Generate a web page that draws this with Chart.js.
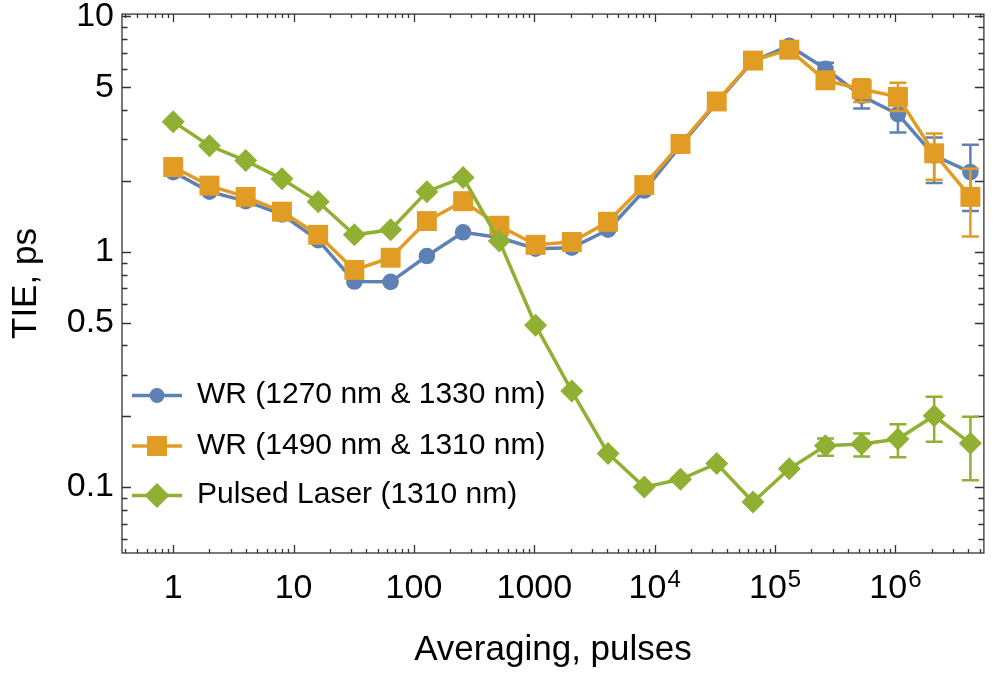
<!DOCTYPE html>
<html>
<head>
<meta charset="utf-8">
<script src="https://cdn.jsdelivr.net/npm/chart.js@4.4.0/dist/chart.umd.min.js"></script>
<style>
  html, body { margin: 0; padding: 0; background: #fff; }
  #tieChart { display: block; }
</style>
</head>
<body>
<canvas id="tieChart" width="998" height="677"></canvas>
<script>
// averaging lengths, 2^0 .. 2^22 pulses
var pulses = [1, 2, 4, 8, 16, 32, 64, 128, 256, 512, 1024, 2048, 4096, 8192, 16384,
  32768, 65536, 131072, 262144, 524288, 1048576, 2097152, 4194304];

// TIE in ps
var wr1270 = [2.18, 1.80, 1.64, 1.44, 1.12, 0.747, 0.745, 0.959, 1.21, 1.15, 1.03, 1.04,
  1.24, 1.82, 2.82, 4.30, 6.45, 7.50, 5.99, 4.59, 3.84, 2.56, 2.18];
var wr1490 = [2.29, 1.91, 1.71, 1.48, 1.18, 0.837, 0.943, 1.35, 1.64, 1.29, 1.07, 1.10,
  1.34, 1.92, 2.87, 4.35, 6.49, 7.22, 5.35, 4.90, 4.55, 2.62, 1.71];
var laser1310 = [3.57, 2.82, 2.44, 2.04, 1.63, 1.18, 1.24, 1.80, 2.07, 1.11, 0.487, 0.256,
  0.139, 0.100, 0.108, 0.126, 0.0864, 0.1196, 0.150, 0.1525, 0.160, 0.201, 0.1535];

// error bar limits, null where no bar is shown
var n18 = [null, null, null, null, null, null, null, null, null, null, null, null, null, null, null, null, null, null];
var wr1270Lo = n18.concat([5.65, 4.06, 3.21, 1.96, 1.49]);
var wr1270Hi = n18.concat([6.35, 5.19, 4.59, 3.06, 2.85]);
var wr1490Lo = n18.concat([null, 4.33, 3.96, 2.02, 1.16]);
var wr1490Hi = n18.concat([null, 5.40, 5.23, 3.18, 2.25]);
var laserLo = n18.concat([0.136, 0.135, 0.134, 0.156, 0.107]);
var laserHi = n18.concat([0.161, 0.169, 0.185, 0.242, 0.199]);

var seriesNames = ['WR (1270 nm & 1330 nm)', 'WR (1490 nm & 1310 nm)', 'Pulsed Laser (1310 nm)'];
var seriesColors = ['#5E81B5', '#E19C24', '#8FB032'];

var xMajor = [1, 10, 100, 1000, 1e4, 1e5, 1e6];
var xBase = ['1', '10', '100', '1000', '10', '10', '10'];
var xExp = ['', '', '', '', '4', '5', '6'];
var yMajor = [0.1, 0.5, 1, 5, 10];
var yLabels = ['0.1', '0.5', '1', '5', '10'];
var yLong = [0.1, 0.2, 0.5, 1, 2, 5, 10];

var FONT = '"Liberation Sans", Arial, sans-serif';

function pts(arr) {
  return arr.map(function (v, i) { return { x: pulses[i], y: v }; });
}

function minorTicks(lo, hi) {
  var out = [];
  for (var e = -3; e <= 7; e++) {
    for (var m = 1; m <= 9; m++) {
      var v = m * Math.pow(10, e);
      if (v >= lo && v <= hi) out.push(v);
    }
  }
  return out;
}

function marker(ctx, style, x, y, size, color) {
  ctx.fillStyle = color;
  ctx.beginPath();
  if (style === 'circle') {
    ctx.arc(x, y, size, 0, Math.PI * 2);
  } else if (style === 'rect') {
    ctx.rect(x - size, y - size, size * 2, size * 2);
  } else {
    ctx.moveTo(x, y - size); ctx.lineTo(x + size, y);
    ctx.lineTo(x, y + size); ctx.lineTo(x - size, y);
    ctx.closePath();
  }
  ctx.fill();
}

var errorBars = {
  id: 'errorBars',
  beforeDatasetDraw: function (chart, args) {
    var ds = chart.data.datasets[args.index];
    if (!ds.errLo) return;
    var xs = chart.scales.x, ys = chart.scales.y, ctx = chart.ctx;
    ctx.save();
    ctx.strokeStyle = ds.borderColor;
    ctx.lineWidth = 2.5;
    for (var i = 0; i < pulses.length; i++) {
      if (ds.errLo[i] == null) continue;
      var px = xs.getPixelForValue(pulses[i]);
      var top = ys.getPixelForValue(ds.errHi[i]);
      var bot = ys.getPixelForValue(ds.errLo[i]);
      ctx.beginPath();
      ctx.moveTo(px, top); ctx.lineTo(px, bot);
      ctx.moveTo(px - 8.5, top); ctx.lineTo(px + 8.5, top);
      ctx.moveTo(px - 8.5, bot); ctx.lineTo(px + 8.5, bot);
      ctx.stroke();
    }
    ctx.restore();
  }
};

// frame with inward ticks on all four sides
var frame = {
  id: 'frame',
  beforeDatasetsDraw: function (chart) {
    var a = chart.chartArea, ctx = chart.ctx;
    var xs = chart.scales.x, ys = chart.scales.y;
    ctx.save();
    ctx.strokeStyle = '#333';
    ctx.lineWidth = 1.3;
    ctx.strokeRect(a.left, a.top, a.right - a.left, a.bottom - a.top);
    ctx.beginPath();
    minorTicks(xs.min, xs.max).forEach(function (v) {
      var px = Math.round(xs.getPixelForValue(v)) + 0.5;
      var len = xMajor.indexOf(v) >= 0 ? 8 : 4;
      ctx.moveTo(px, a.bottom); ctx.lineTo(px, a.bottom - len);
      ctx.moveTo(px, a.top); ctx.lineTo(px, a.top + len);
    });
    minorTicks(ys.min, ys.max).forEach(function (v) {
      var py = Math.round(ys.getPixelForValue(v)) + 0.5;
      var big = yLong.some(function (t) { return Math.abs(t - v) < 1e-9; });
      var len = big ? 9 : 5.5;
      ctx.moveTo(a.left, py); ctx.lineTo(a.left + len, py);
      ctx.moveTo(a.right, py); ctx.lineTo(a.right - len, py);
    });
    ctx.stroke();
    ctx.restore();
  },
  afterDraw: function (chart) {
    var ctx = chart.ctx, xs = chart.scales.x;
    ctx.save();
    ctx.fillStyle = '#000';
    ctx.textBaseline = 'alphabetic';
    ctx.textAlign = 'left';
    xMajor.forEach(function (v, i) {
      ctx.font = '34px ' + FONT;
      var wb = ctx.measureText(xBase[i]).width;
      ctx.font = '24px ' + FONT;
      var we = xExp[i] ? ctx.measureText(xExp[i]).width + 1 : 0;
      var x0 = xs.getPixelForValue(v) - (wb + we) / 2;
      ctx.font = '34px ' + FONT;
      ctx.fillText(xBase[i], x0, 598);
      if (xExp[i]) {
        ctx.font = '24px ' + FONT;
        ctx.fillText(xExp[i], x0 + wb + 1, 587);
      }
    });

    // legend
    var rows = [395.5, 446, 495.5];
    var styles = [['circle', 7.5], ['rect', 10], ['diamond', 12.5]];
    rows.forEach(function (y, i) {
      ctx.strokeStyle = seriesColors[i];
      ctx.lineWidth = 3.5;
      ctx.beginPath();
      ctx.moveTo(132, y); ctx.lineTo(182, y);
      ctx.stroke();
      marker(ctx, styles[i][0], 157, y, styles[i][1], seriesColors[i]);
      ctx.fillStyle = '#000';
      ctx.font = '30px ' + FONT;
      ctx.textBaseline = 'middle';
      ctx.fillText(seriesNames[i], 197, y - 0.5);
    });
    ctx.restore();
  }
};

var datasets = [
  { label: seriesNames[0], data: pts(wr1270), errLo: wr1270Lo, errHi: wr1270Hi,
    borderColor: seriesColors[0], backgroundColor: seriesColors[0],
    pointStyle: 'circle', pointRadius: 8.3, order: 3 },
  { label: seriesNames[1], data: pts(wr1490), errLo: wr1490Lo, errHi: wr1490Hi,
    borderColor: seriesColors[1], backgroundColor: seriesColors[1],
    pointStyle: 'rect', pointRadius: 14.1, order: 2 },
  { label: seriesNames[2], data: pts(laser1310), errLo: laserLo, errHi: laserHi,
    borderColor: seriesColors[2], backgroundColor: seriesColors[2],
    pointStyle: 'rectRot', pointRadius: 11.5, order: 1 }
];
datasets.forEach(function (d) {
  d.borderWidth = 3.5;
  d.pointBorderWidth = 0;
  d.pointBackgroundColor = d.borderColor;
  d.tension = 0;
  d.fill = false;
  d.clip = false;
});

new Chart(document.getElementById('tieChart'), {
  type: 'line',
  data: { datasets: datasets },
  plugins: [errorBars, frame],
  options: {
    responsive: false,
    devicePixelRatio: 1,
    animation: false,
    events: [],
    layout: { padding: { top: 11, right: 1, left: 0, bottom: 0 } },
    plugins: { legend: { display: false }, tooltip: { enabled: false } },
    scales: {
      x: {
        type: 'logarithmic',
        min: 0.3754,
        max: 5.43e6,
        grid: { display: false, drawTicks: false },
        border: { display: false },
        ticks: { display: false },
        afterBuildTicks: function (s) { s.ticks = xMajor.map(function (v) { return { value: v }; }); },
        afterFit: function (s) { s.height = 124; s.paddingLeft = 0; s.paddingRight = 0; },
        title: {
          display: true, text: 'Averaging, pulses', color: '#000',
          font: { family: FONT, size: 35 }, padding: { top: 0, bottom: 6 }
        }
      },
      y: {
        type: 'logarithmic',
        min: 0.05248,
        max: 10.226,
        grid: { display: false, drawTicks: false },
        border: { display: false },
        afterBuildTicks: function (s) { s.ticks = yMajor.map(function (v) { return { value: v }; }); },
        afterFit: function (s) { s.width = 122; s.paddingTop = 0; s.paddingBottom = 0; },
        ticks: {
          color: '#000', font: { family: FONT, size: 34 }, padding: 8,
          autoSkip: false, maxRotation: 0,
          callback: function (v) { return yLabels[yMajor.indexOf(v)]; }
        },
        title: {
          display: true, text: 'TIE, ps', color: '#000',
          font: { family: FONT, size: 35 }, padding: { top: 5, bottom: 0 }
        }
      }
    }
  }
});
</script>
</body>
</html>
